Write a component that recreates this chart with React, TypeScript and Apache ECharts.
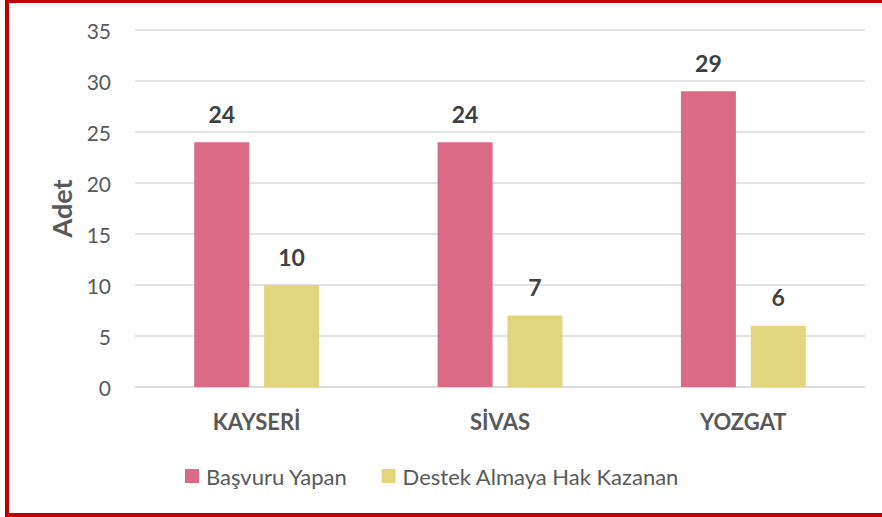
import React, { useEffect, useRef } from "react";
import * as echarts from "echarts";

const categories = ["KAYSERİ", "SİVAS", "YOZGAT"];
const applied = [24, 24, 29];
const granted = [10, 7, 6];
const seriesNames = ["Başvuru Yapan", "Destek Almaya Hak Kazanan"];

export default function App() {
  const ref = useRef<HTMLDivElement>(null);
  useEffect(() => {
    document.body.style.margin = "0";
    const chart = echarts.init(ref.current!, null, { renderer: "svg" });
    const font = "Lato, 'Noto Sans', sans-serif";
    chart.setOption({
      animation: false,
      textStyle: { fontFamily: font },
      graphic: [
        {
          type: "rect",
          shape: { x: 7, y: 1, width: 900, height: 514 },
          style: { fill: "none", stroke: "#C00000", lineWidth: 4 },
          silent: true,
        },
      ],
      grid: { left: 135, right: 17, top: 30, bottom: 130 },
      legend: {
        left: 180,
        top: 460,
        itemWidth: 14,
        itemHeight: 14,
        itemGap: 34,
        icon: "rect",
        textStyle: { fontFamily: font, fontSize: 22, color: "#595959", padding: [0, 0, 0, 2] },
        data: seriesNames,
      },
      xAxis: {
        type: "category",
        data: categories,
        axisTick: { show: false },
        axisLine: { lineStyle: { color: "#D9D9D9", width: 1.5 } },
        axisLabel: { margin: 23, fontFamily: font, fontSize: 22, fontWeight: "bold", color: "#595959" },
      },
      yAxis: {
        type: "value",
        min: 0,
        max: 35,
        interval: 5,
        name: "Adet",
        nameLocation: "middle",
        nameGap: 60,
        nameTextStyle: { fontFamily: font, fontSize: 27, fontWeight: "bold", color: "#595959" },
        axisLabel: { margin: 24, fontFamily: font, fontSize: 21, color: "#595959" },
        splitLine: { lineStyle: { color: "#D9D9D9", width: 1.5 } },
        axisLine: { show: false },
        axisTick: { show: false },
      },
      series: [
        {
          name: seriesNames[0],
          type: "bar",
          data: applied,
          barWidth: 55,
          barGap: "27%",
          itemStyle: { color: "#DB6A87" },
          label: { show: true, position: "top", distance: 17, fontFamily: font, fontSize: 23, fontWeight: "bold", color: "#404040" },
        },
        {
          name: seriesNames[1],
          type: "bar",
          data: granted,
          barWidth: 55,
          itemStyle: { color: "#E3D47E" },
          label: { show: true, position: "top", distance: 17, fontFamily: font, fontSize: 23, fontWeight: "bold", color: "#404040" },
        },
      ],
    });
    return () => chart.dispose();
  }, []);
  return <div ref={ref} style={{ position: "absolute", left: 0, top: 0, width: 882, height: 517 }} />;
}
